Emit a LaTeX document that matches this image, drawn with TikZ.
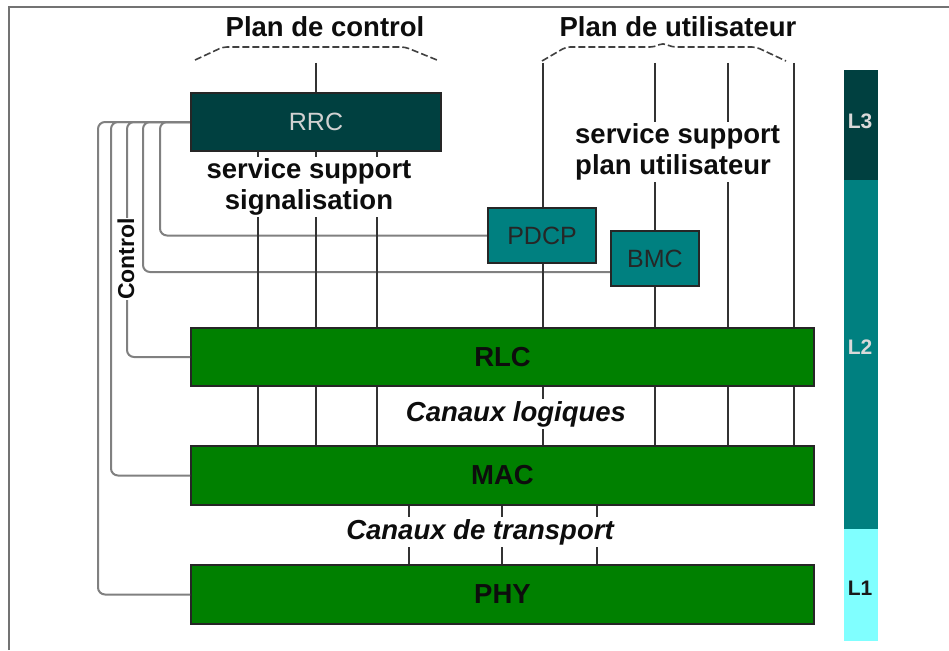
\documentclass[tikz,border=0pt]{standalone}
\usepackage{fontspec}
\setmainfont{Liberation Sans}
\begin{document}
\begin{tikzpicture}[x=1pt,y=-1pt,
  box/.style={draw=black!85,line width=2pt,inner sep=0pt,anchor=center},
  greenbox/.style={box,fill=green!50!black,font=\bfseries\fontsize{27.5}{31}\selectfont,text=black!95},
  tealbox/.style={box,fill={rgb,255:red,0;green,128;blue,128},font=\fontsize{25}{28}\selectfont,text=black!85},
  vline/.style={draw=black!80,line width=2pt},
  ctrl/.style={draw=black!50,line width=2pt,rounded corners=7pt},
  lbl/.style={fill=white,inner sep=1pt,text=black!95,font=\bfseries\fontsize{27.5}{31}\selectfont},
  brace/.style={draw=black!75,line width=1.6pt,dash pattern=on 7pt off 3pt,rounded corners=4pt}]
\useasboundingbox (0,0) rectangle (949,650);
\fill[white] (0,0) rectangle (949,650);
% frame
\draw[black!55,line width=2.5pt] (9,650) -- (9,7) -- (949,7);
% colours
\definecolor{rrcc}{RGB}{0,64,64}
\definecolor{tealc}{RGB}{0,128,128}
\definecolor{cyanc}{RGB}{128,255,255}
% boxes (nodes placed first for names)
\node[box,fill=rrcc,minimum width=250pt,minimum height=58pt,font=\fontsize{25}{28}\selectfont,text=black!18] (RRC) at (316,122) {RRC};
\node[tealbox,minimum width=108pt,minimum height=55pt] (PDCP) at (542,235.5) {PDCP};
\node[tealbox,minimum width=88pt,minimum height=55pt] (BMC) at (655,258.5) {BMC};
\node[greenbox,minimum width=623pt,minimum height=58pt] (RLC) at (502.5,357) {RLC};
\node[greenbox,minimum width=623pt,minimum height=59pt] (MAC) at (502.5,475.5) {MAC};
\node[greenbox,minimum width=623pt,minimum height=59pt] (PHY) at (502.5,594.5) {PHY};
% column coordinates
\coordinate (c1) at (258,0);
\coordinate (c2) at (316,63);
\coordinate (c3) at (377,0);
\coordinate (u1) at (543,63);
\coordinate (u2) at (655,63);
\coordinate (u3) at (728,63);
\coordinate (u4) at (794,63);
\coordinate (t1) at (409,0);
\coordinate (t2) at (502,0);
\coordinate (t3) at (597,0);
% control lines
\draw[ctrl] (RRC.west) -- (98,122) -- (98,594.5) -- (PHY.west);
\draw[ctrl] (RRC.west) -- (111,122) -- (111,475.5) -- (MAC.west);
\draw[ctrl] (RRC.west) -- (127,122) -- (127,357) -- (RLC.west);
\draw[ctrl] (RRC.west) -- (143,122) -- (143,272) -- ([yshift=-13.5pt]BMC.west);
\draw[ctrl] (RRC.west) -- (160,122) -- (160,235.5) -- (PDCP.west);
% vertical lines control plane
\draw[vline] (c2) -- (RRC.north);
\draw[vline] (RRC.south -| c1) -- (RLC.north -| c1);
\draw[vline] (RRC.south -| c2) -- (RLC.north -| c2);
\draw[vline] (RRC.south -| c3) -- (RLC.north -| c3);
\draw[vline] (RLC.south -| c1) -- (MAC.north -| c1);
\draw[vline] (RLC.south -| c2) -- (MAC.north -| c2);
\draw[vline] (RLC.south -| c3) -- (MAC.north -| c3);
% user plane
\draw[vline] (u1) -- (PDCP.north -| u1);
\draw[vline] (PDCP.south -| u1) -- (RLC.north -| u1);
\draw[vline] (u2) -- (BMC.north -| u2);
\draw[vline] (BMC.south -| u2) -- (RLC.north -| u2);
\draw[vline] (u3) -- (RLC.north -| u3);
\draw[vline] (u4) -- (RLC.north -| u4);
\draw[vline] (RLC.south -| u1) -- (MAC.north -| u1);
\draw[vline] (RLC.south -| u2) -- (MAC.north -| u2);
\draw[vline] (RLC.south -| u3) -- (MAC.north -| u3);
\draw[vline] (RLC.south -| u4) -- (MAC.north -| u4);
% transport
\draw[vline] (MAC.south -| t1) -- (PHY.north -| t1);
\draw[vline] (MAC.south -| t2) -- (PHY.north -| t2);
\draw[vline] (MAC.south -| t3) -- (PHY.north -| t3);
% redraw boxes on top of the lines
\node[box,fill=rrcc,minimum width=250pt,minimum height=58pt,font=\fontsize{25}{28}\selectfont,text=black!18] at (316,122) {RRC};
\node[tealbox,minimum width=108pt,minimum height=55pt] at (542,235.5) {PDCP};
\node[tealbox,minimum width=88pt,minimum height=55pt] at (655,258.5) {BMC};
% braces
\draw[brace] (195,60) -- (223,47) -- (405,47) -- (437,60);
\draw[brace] (542,61) -- (566,47) -- (654,47) -- (663,43) -- (672,47) -- (756,47) -- (786,61);
% labels
\node[lbl,fill=none] (pc) at (325,27) {Plan de control};
\node[lbl,fill=none] (pu) at (678,27) {Plan de utilisateur};
\node[lbl,align=center,inner sep=2pt] (ss) at (309,187) {service support\\signalisation};
\node[lbl,align=left,anchor=west,inner sep=2pt] (su) at (573,152) {service support\\plan utilisateur};
\node[lbl,font=\bfseries\itshape\fontsize{27.5}{31}\selectfont,inner sep=2pt] (cl) at (516,414) {Canaux logiques};
\node[lbl,font=\bfseries\itshape\fontsize{27.5}{31}\selectfont,inner sep=2pt] (ct) at (480,532) {Canaux de transport};
\node[lbl,rotate=90,font=\bfseries\fontsize{23}{26}\selectfont,inner sep=0.5pt] (cc) at (126,259) {Control};
% layer bar
\fill[rrcc] (844,70) rectangle (878,180);
\fill[tealc] (844,180) rectangle (878,529);
\fill[cyanc] (844,529) rectangle (878,641);
\node[font=\bfseries\fontsize{21}{24}\selectfont,text=black!15] (L3) at (860,121) {L3};
\node[font=\bfseries\fontsize{21}{24}\selectfont,text=black!15] (L2) at (860,347) {L2};
\node[font=\bfseries\fontsize{21}{24}\selectfont,text=black!90] (L1) at (860,588) {L1};
\end{tikzpicture}
\end{document}
